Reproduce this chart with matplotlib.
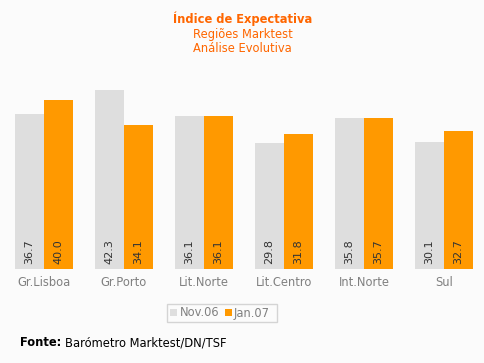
import matplotlib
matplotlib.use("Agg")
import matplotlib.pyplot as plt
import numpy as np
from matplotlib.patches import Rectangle

categories = ["Gr.Lisboa", "Gr.Porto", "Lit.Norte", "Lit.Centro", "Int.Norte", "Sul"]
nov06 = [36.7, 42.3, 36.1, 29.8, 35.8, 30.1]
jan07 = [40.0, 34.1, 36.1, 31.8, 35.7, 32.7]
series_names = ["Nov.06", "Jan.07"]

W, H = 485, 363
bg = "#FBFBFB"
grey = "#DEDEDE"
orange = "#FF9900"
title_col = "#FF6600"
fs = 8.3

fig = plt.figure(figsize=(W / 100, H / 100), dpi=100, facecolor=bg)
ax = fig.add_axes([4 / W, 1 - 269 / H, 480 / W, (269 - 57.5) / H])
ax.set_facecolor(bg)
ax.set_xlim(-0.5, 5.5)
ax.set_ylim(0, 50)
for s in ax.spines.values():
    s.set_visible(False)
ax.set_xticks([])
ax.set_yticks([])

x = np.arange(len(categories))
bw = 29 / 80
b1 = ax.bar(x - bw / 2, nov06, bw, color=grey, label=series_names[0])
b2 = ax.bar(x + bw / 2, jan07, bw, color=orange, label=series_names[1])

for bars, vals in ((b1, nov06), (b2, jan07)):
    for r, v in zip(bars, vals):
        ax.annotate(f"{v:.1f}", (r.get_x() + r.get_width() / 2, 0),
                    xytext=(0, 5), textcoords="offset pixels",
                    rotation=90, ha="center", va="bottom",
                    fontsize=8, color="#333333")

for xi, c in zip(x, categories):
    ax.annotate(c, (xi, 0), xytext=(0, -14), textcoords="offset pixels",
                ha="center", va="center", fontsize=fs, color="#808080")

fig.text(0.5, 1 - 19 / H, "Índice de Expectativa", ha="center", va="center",
         fontsize=fs, fontweight="bold", color=title_col)
fig.text(0.5, 1 - 34.5 / H, "Regiões Marktest", ha="center", va="center",
         fontsize=fs, color=title_col)
fig.text(0.5, 1 - 48.5 / H, "Análise Evolutiva", ha="center", va="center",
         fontsize=fs, color=title_col)

# legend
fig.patches.append(Rectangle((167 / W, 1 - 322 / H), 110 / W, 18 / H,
                             transform=fig.transFigure, facecolor=bg,
                             edgecolor="#D4D4D4", linewidth=1))
fig.patches.append(Rectangle((170 / W, 1 - 316 / H), 7 / W, 7 / H,
                             transform=fig.transFigure, facecolor=grey, edgecolor="none"))
fig.text(180 / W, 1 - 313 / H, series_names[0], ha="left", va="center",
         fontsize=fs, color="#808080")
fig.patches.append(Rectangle((225 / W, 1 - 316 / H), 7 / W, 7 / H,
                             transform=fig.transFigure, facecolor=orange, edgecolor="none"))
fig.text(234 / W, 1 - 313 / H, series_names[1], ha="left", va="center",
         fontsize=fs, color="#808080")

# source
t = fig.text(20 / W, 1 - 343 / H, "Fonte:", ha="left", va="center",
             fontsize=fs, fontweight="bold", color="black")
fig.canvas.draw()
bb = t.get_window_extent()
fig.text((bb.x1 + 4) / W, 1 - 343 / H, "Barómetro Marktest/DN/TSF", ha="left",
         va="center", fontsize=fs, color="black")

fig.savefig("out.png", dpi=100, facecolor=bg)
